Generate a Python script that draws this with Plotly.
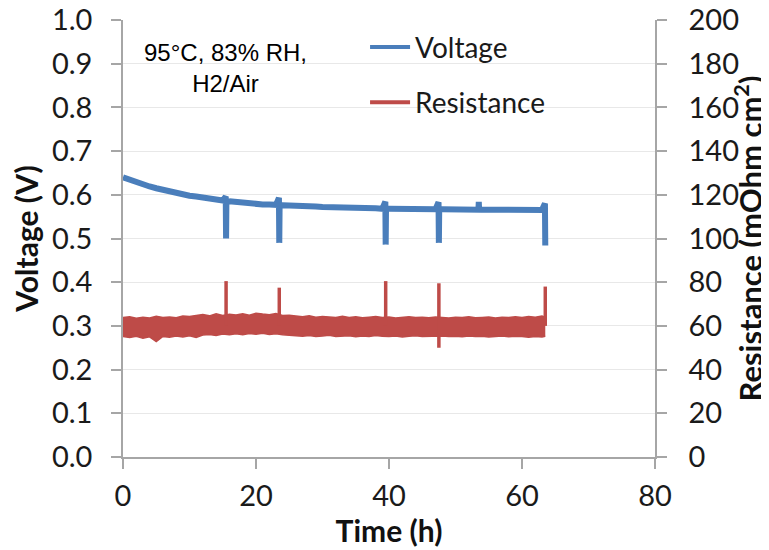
import plotly.graph_objects as go

# ---------------- data ----------------
# Voltage baseline, hourly samples (V)
volt_time = list(range(0, 64))
volt_base = [0.640, 0.634, 0.629, 0.624, 0.619, 0.615, 0.611, 0.607, 0.604, 0.601,
             0.598, 0.596, 0.594, 0.591, 0.589, 0.587, 0.585, 0.583, 0.582, 0.580,
             0.579, 0.578, 0.578, 0.577, 0.576, 0.576, 0.575, 0.574, 0.573, 0.573,
             0.572, 0.572, 0.571, 0.571, 0.570, 0.570, 0.569, 0.569, 0.569, 0.568,
             0.568, 0.568, 0.568, 0.568, 0.567, 0.567, 0.567, 0.567, 0.567, 0.567,
             0.567, 0.566, 0.567, 0.566, 0.566, 0.566, 0.566, 0.566, 0.566, 0.565,
             0.566, 0.565, 0.565, 0.565]
# Voltage transients (time h, V)
volt_event_time = [15.45, 15.50, 15.55, 23.45, 23.50, 23.55, 39.45, 39.50, 39.55,
                   47.45, 47.50, 47.55, 53.45, 53.50, 53.55, 63.45, 63.50]
volt_event_val = [0.596, 0.500, 0.586, 0.593, 0.490, 0.576, 0.584, 0.486, 0.568,
                  0.583, 0.490, 0.567, 0.566, 0.584, 0.566, 0.580, 0.484]

# Resistance noise band: upper / lower envelope (mOhm cm2), hourly
res_time = list(range(0, 64)) + [63.5]
res_upper = [63.8, 64.2, 63.5, 64.0, 63.6, 64.4, 63.9, 64.1, 63.7, 64.5,
             64.3, 64.9, 65.2, 64.6, 65.5, 64.8, 65.3, 65.0, 65.6, 64.9,
             65.8, 65.4, 65.1, 65.7, 64.8, 64.9, 64.5, 64.2, 64.6, 64.0,
             64.3, 64.1, 63.8, 64.4, 63.9, 64.2, 63.7, 64.0, 64.3, 63.8,
             64.1, 63.6, 63.9, 64.2, 63.8, 64.0, 63.7, 64.1, 63.9, 63.6,
             64.0, 63.8, 64.2, 63.7, 63.9, 64.1, 63.6, 64.0, 63.8, 64.2,
             63.9, 64.3, 64.0, 64.5, 64.0]
res_lower = [55.1, 54.7, 55.3, 54.4, 55.0, 52.8, 55.2, 54.8, 55.4, 54.9,
             55.5, 54.7, 55.8, 56.1, 55.6, 56.3, 55.9, 56.4, 56.0, 56.5,
             56.2, 56.6, 56.1, 56.4, 55.9, 55.7, 55.5, 55.3, 55.6, 55.2,
             55.4, 55.7, 55.1, 55.3, 55.5, 55.0, 55.4, 55.2, 55.6, 55.3,
             55.1, 55.4, 54.9, 55.3, 55.5, 55.1, 55.2, 55.0, 55.4, 55.1,
             55.3, 55.0, 55.4, 55.1, 55.3, 54.9, 55.2, 55.4, 55.0, 55.3,
             55.1, 54.8, 55.2, 54.9, 55.3]
# Resistance transients (time h, spike top, spike bottom)
res_spike_time = [15.5, 23.5, 39.5, 47.5, 63.5]
res_spike_top = [80.5, 77.5, 80.5, 79.5, 78.0]
res_spike_bottom = [60.0, 60.0, 60.0, 50.0, 60.0]

x_ticks = [0, 20, 40, 60, 80]
v_ticks = [round(0.1 * i, 1) for i in range(11)]
r_ticks = list(range(0, 201, 20))

note_text = "95°C, 83% RH,<br>H2/Air"

# ---------------- build series ----------------
pts = sorted(zip(volt_time + volt_event_time, volt_base + volt_event_val), key=lambda p: p[0])
vt = [p[0] for p in pts]
vv = [p[1] for p in pts]

sx, sy = [], []
for t, top, bot in zip(res_spike_time, res_spike_top, res_spike_bottom):
    sx += [t, t, None]
    sy += [bot, top, None]

BLUE = "#4A7EBB"
RED = "#BE4B48"
TICKFONT = dict(family="Lato", size=29, color="#1a1a1a")
TITLEFONT = dict(family="Lato", size=30, color="#111111", weight="bold")
TITLEFONT_R = dict(family="Lato", size=31, color="#111111", weight="bold")
AXCOL = "#a6a6a6"
GRID = "#e8e8e8"

fig = go.Figure()
fig.add_trace(go.Scatter(x=res_time, y=res_lower, mode="lines", yaxis="y2",
                         line=dict(color=RED, width=1.5), showlegend=False))
fig.add_trace(go.Scatter(x=res_time, y=res_upper, mode="lines", yaxis="y2",
                         fill="tonexty", fillcolor=RED,
                         line=dict(color=RED, width=1.5), showlegend=False))
fig.add_trace(go.Scatter(x=sx, y=sy, mode="lines", yaxis="y2",
                         line=dict(color=RED, width=3.5), showlegend=False))
fig.add_trace(go.Scatter(x=vt, y=vv, mode="lines",
                         line=dict(color=BLUE, width=6), showlegend=False))
# legend entries
fig.add_trace(go.Scatter(x=[None], y=[None], mode="lines", name="Voltage",
                         line=dict(color=BLUE, width=4), legendgroup="v"))
fig.add_trace(go.Scatter(x=[None], y=[None], mode="lines", name="Resistance",
                         line=dict(color=RED, width=4), legendgroup="r"))

common = dict(zeroline=False, showline=True, linecolor=AXCOL, linewidth=1.5,
              ticks="outside", ticklen=10, tickcolor=AXCOL, tickwidth=1.5,
              tickfont=TICKFONT, automargin=False, ticklabeloverflow="allow")

# page body has an 8px margin: figure is 761x542 so that it fills the 769x550 window
fig.update_layout(
    width=761, height=542,
    margin=dict(l=115, r=114, t=12, b=93),
    paper_bgcolor="white", plot_bgcolor="white",
    showlegend=True,
    legend=dict(x=0.455, y=0.995, xanchor="left", yanchor="top",
                font=dict(family="Lato", size=28, color="#1a1a1a"),
                bgcolor="rgba(0,0,0,0)", tracegroupgap=16, itemwidth=40),
    xaxis=dict(range=[0, 80], tickvals=x_ticks, showgrid=False,
               ticklabelstandoff=2,
               title=dict(text="Time (h)", font=TITLEFONT, standoff=8), **common),
    yaxis=dict(range=[0, 1], tickvals=v_ticks, tickformat=".1f", showgrid=True,
               gridcolor=GRID, gridwidth=1, ticklabelstandoff=13,
               title=dict(text="Voltage (V)", font=TITLEFONT, standoff=8), **common),
    yaxis2=dict(range=[0, 200], tickvals=r_ticks, overlaying="y", side="right",
                showgrid=False, ticklabelstandoff=16,
                title=dict(text="Resistance (mOhm cm<sup>2</sup>)", font=TITLEFONT_R, standoff=0),
                **common),
)

fig.add_annotation(x=0.1936, y=0.89, xref="paper", yref="paper", text=note_text,
                   showarrow=False, align="center", xanchor="center", yanchor="middle",
                   font=dict(family="Liberation Sans", size=24, color="#000000"))

fig.write_html("out.html")
